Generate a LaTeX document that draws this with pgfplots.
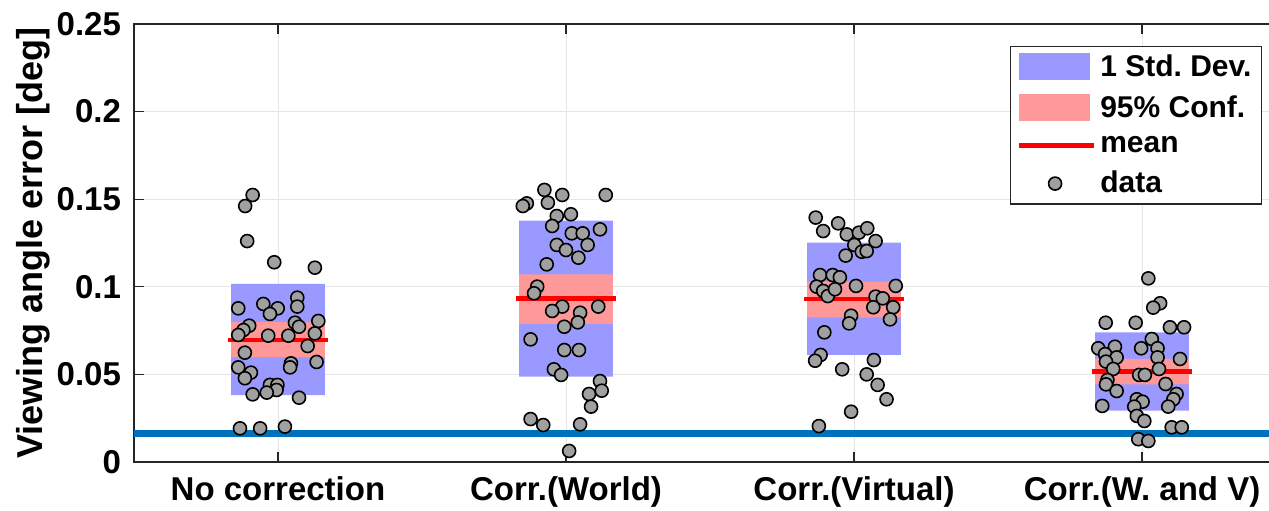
\documentclass[border=0pt]{standalone}
\usepackage{fontspec}
\setmainfont{Liberation Sans}
\usepackage{pgfplots}
\pgfplotsset{compat=1.18}
\frenchspacing
\definecolor{sdblue}{RGB}{153,153,255}
\definecolor{cipink}{RGB}{255,153,153}
\definecolor{mblue}{rgb}{0,0.447,0.741}
\definecolor{ptgray}{RGB}{160,160,160}
\definecolor{axgray}{RGB}{38,38,38}
\begin{document}
\begin{tikzpicture}
\begin{axis}[name=ax, scale only axis, width=568.8pt, height=219pt,
 xmin=0.5, xmax=4.45, ymin=0, ymax=0.25,
 xtick={1,2,3,4}, xticklabels={No correction,Corr.(World),Corr.(Virtual),Corr.(W.\ and V)},
 ytick={0,0.05,0.1,0.15,0.2,0.25}, yticklabels={0,0.05,0.1,0.15,0.2,0.25},
 scaled y ticks=false,
 tick align=inside, xtick pos=both, ytick pos=left, major tick length=5pt,
 grid=major, grid style={color=black!10, line width=0.5pt},
 axis line style={color=axgray, line width=0.6pt}, tick style={color=axgray, line width=0.6pt},
 ticklabel style={font=\bfseries\fontsize{16.5}{19}\selectfont},
 xticklabel style={yshift=-4pt},
 yticklabel style={xshift=-3pt},
 ylabel={Viewing angle error [deg]},
 ylabel style={font=\bfseries\fontsize{18}{21}\selectfont, at={(axis description cs:0,0.5)}, anchor=center, yshift=50.5pt},
 legend style={at={(0.9916,0.9498)}, anchor=north east, draw=axgray, line width=0.6pt,
   font=\bfseries\fontsize{15}{17}\selectfont, cells={anchor=west}, row sep=4pt},
]
% ---- group 1
\addplot[draw=none, fill=sdblue, legend image code/.code={\fill[sdblue] (0pt,-6.75pt) rectangle (35.5pt,6.75pt);}]
 coordinates {(0.837,0.0382) (1.163,0.0382) (1.163,0.1016) (0.837,0.1016) (0.837,0.0382)};
\addlegendentry{1 Std.\ Dev.}
\addplot[draw=none, fill=cipink, legend image code/.code={\fill[cipink] (0pt,-6.75pt) rectangle (35.5pt,6.75pt);}]
 coordinates {(0.837,0.0599) (1.163,0.0599) (1.163,0.0799) (0.837,0.0799) (0.837,0.0599)};
\addlegendentry{95\% Conf.}
\addplot[red, line width=2.2pt, legend image code/.code={\draw[red, line width=2.2pt] (0pt,0pt) -- (37.5pt,0pt);}]
 coordinates {(0.828,0.0696) (1.172,0.0696)};
\addlegendentry{mean}
\addplot[only marks, mark=*, mark size=3.25pt, mark options={fill=ptgray, draw=black, line width=0.8pt},
 legend image code/.code={\draw[fill=ptgray, draw=black, line width=0.8pt] (18pt,0pt) circle (3.25pt);}]
 coordinates {(0.912,0.1524) (0.886,0.1461) (0.893,0.1261) (0.987,0.1140) (1.128,0.1109) (1.067,0.0938) (0.862,0.0877) (0.949,0.0902) (0.999,0.0877) (0.972,0.0845) (1.067,0.0887) (1.059,0.0795) (1.140,0.0805) (1.073,0.0772) (0.900,0.0778) (0.880,0.0753) (0.862,0.0725) (0.966,0.0721) (1.036,0.0721) (1.128,0.0734) (1.103,0.0662) (0.885,0.0624) (0.862,0.0540) (1.045,0.0563) (1.042,0.0540) (1.134,0.0571) (0.906,0.0510) (0.885,0.0478) (0.972,0.0440) (0.998,0.0440) (0.995,0.0411) (0.961,0.0396) (0.912,0.0386) (1.073,0.0367) (0.868,0.0192) (0.938,0.0192) (1.024,0.0202)};
\addlegendentry{data}
% ---- group 2
\addplot[draw=none, fill=sdblue, forget plot]
 coordinates {(1.837,0.0487) (2.163,0.0487) (2.163,0.1377) (1.837,0.1377) (1.837,0.0487)};
\addplot[draw=none, fill=cipink, forget plot]
 coordinates {(1.837,0.0788) (2.163,0.0788) (2.163,0.1071) (1.837,0.1071) (1.837,0.0788)};
\addplot[red, line width=2.2pt, forget plot] coordinates {(1.828,0.0934) (2.172,0.0934)};
\addplot[only marks, mark=*, mark size=3.25pt, mark options={fill=ptgray, draw=black, line width=0.8pt}, forget plot]
 coordinates {(1.925,0.1553) (1.987,0.1524) (2.138,0.1524) (1.864,0.1476) (1.850,0.1461) (1.937,0.1480) (1.968,0.1404) (2.017,0.1414) (1.952,0.1347) (2.118,0.1328) (2.020,0.1305) (2.058,0.1305) (2.075,0.1239) (1.968,0.1239) (2.000,0.1210) (2.043,0.1166) (1.933,0.1128) (1.900,0.1001) (1.889,0.0963) (1.987,0.0887) (1.952,0.0862) (2.112,0.0887) (2.049,0.0852) (2.041,0.0797) (1.994,0.0772) (1.877,0.0700) (1.994,0.0639) (2.045,0.0639) (1.958,0.0529) (1.983,0.0497) (2.118,0.0462) (2.080,0.0388) (2.124,0.0407) (2.087,0.0316) (1.877,0.0245) (1.921,0.0211) (2.049,0.0215) (2.011,0.0063)};
% ---- group 3
\addplot[draw=none, fill=sdblue, forget plot]
 coordinates {(2.837,0.0611) (3.163,0.0611) (3.163,0.1252) (2.837,0.1252) (2.837,0.0611)};
\addplot[draw=none, fill=cipink, forget plot]
 coordinates {(2.837,0.0826) (3.163,0.0826) (3.163,0.1029) (2.837,0.1029) (2.837,0.0826)};
\addplot[red, line width=2.2pt, forget plot] coordinates {(2.828,0.0930) (3.172,0.0930)};
\addplot[only marks, mark=*, mark size=3.25pt, mark options={fill=ptgray, draw=black, line width=0.8pt}, forget plot]
 coordinates {(2.867,0.1395) (2.893,0.1318) (2.945,0.1362) (2.975,0.1299) (3.017,0.1309) (3.046,0.1334) (3.075,0.1261) (3.001,0.1239) (3.027,0.1200) (2.971,0.1178) (3.044,0.1204) (2.882,0.1067) (2.926,0.1067) (2.951,0.1054) (2.870,0.1001) (2.893,0.0976) (2.909,0.0947) (2.934,0.0986) (3.007,0.1005) (3.145,0.1005) (3.075,0.0944) (3.100,0.0934) (3.067,0.0883) (3.136,0.0883) (3.125,0.0814) (2.990,0.0835) (2.983,0.0791) (2.897,0.0740) (2.884,0.0611) (2.865,0.0578) (3.069,0.0582) (2.959,0.0529) (3.044,0.0500) (3.082,0.0440) (3.113,0.0358) (2.990,0.0287) (2.878,0.0205)};
% ---- group 4
\addplot[draw=none, fill=sdblue, forget plot]
 coordinates {(3.837,0.0293) (4.163,0.0293) (4.163,0.0740) (3.837,0.0740) (3.837,0.0293)};
\addplot[draw=none, fill=cipink, forget plot]
 coordinates {(3.837,0.0443) (4.163,0.0443) (4.163,0.0588) (3.837,0.0588) (3.837,0.0443)};
\addplot[red, line width=2.2pt, forget plot] coordinates {(3.828,0.0516) (4.172,0.0516)};
\addplot[only marks, mark=*, mark size=3.25pt, mark options={fill=ptgray, draw=black, line width=0.8pt}, forget plot]
 coordinates {(4.022,0.1048) (4.063,0.0906) (4.039,0.0881) (3.874,0.0795) (3.978,0.0795) (4.097,0.0769) (4.146,0.0769) (4.034,0.0702) (3.848,0.0649) (3.906,0.0658) (3.997,0.0649) (4.054,0.0649) (3.872,0.0616) (3.912,0.0597) (4.054,0.0597) (4.132,0.0588) (3.875,0.0573) (3.900,0.0531) (4.059,0.0531) (3.990,0.0497) (4.010,0.0497) (3.880,0.0468) (3.875,0.0443) (4.082,0.0445) (3.912,0.0405) (4.120,0.0388) (4.109,0.0358) (3.862,0.0320) (3.982,0.0358) (4.002,0.0344) (3.973,0.0316) (4.091,0.0316) (3.982,0.0263) (4.008,0.0234) (4.103,0.0198) (4.138,0.0198) (3.987,0.0130) (4.022,0.0120)};
% ---- reference line
\addplot[mblue, line width=3.5pt, forget plot] coordinates {(0.5,0.0164) (4.45,0.0164)};
\end{axis}
\pgfresetboundingbox
\path ([xshift=-67pt,yshift=-24.5pt]ax.south west) rectangle ([xshift=-1.3pt,yshift=12pt]ax.north east);
\end{tikzpicture}
\end{document}
